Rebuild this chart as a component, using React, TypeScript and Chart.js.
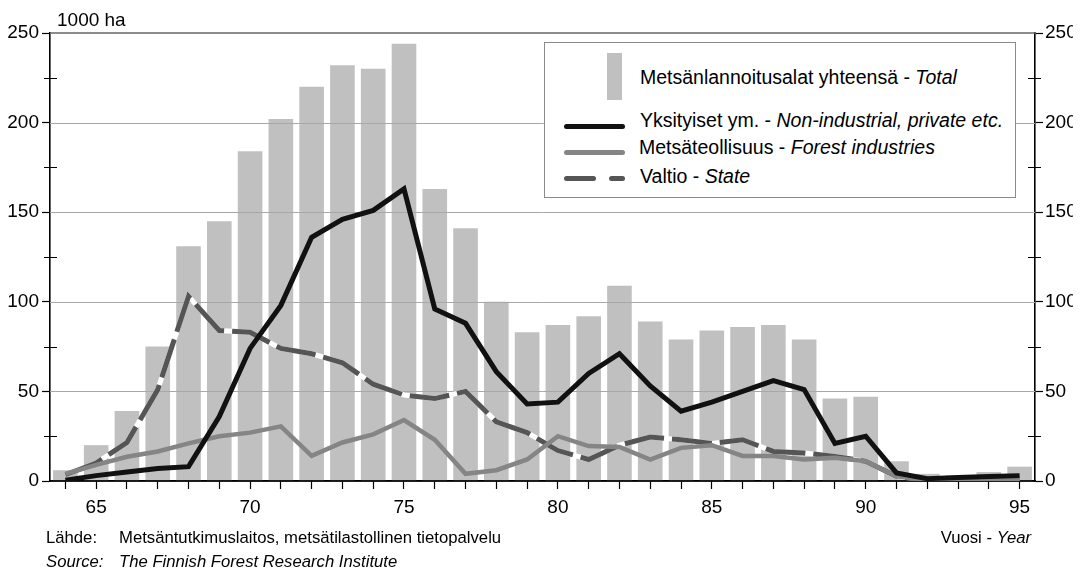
import React, { useEffect, useRef } from "react";
import { Chart, registerables } from "chart.js";

Chart.register(...registerables);

// ---- data (1000 ha) ----
const years = [
  "64", "65", "66", "67", "68", "69", "70", "71", "72", "73", "74", "75", "76", "77", "78", "79",
  "80", "81", "82", "83", "84", "85", "86", "87", "88", "89", "90", "91", "92", "93", "94", "95",
];
const totalArea = [6, 20, 39, 75, 131, 145, 184, 202, 220, 232, 230, 244, 163, 141, 100, 83, 87, 92, 109, 89, 79, 84, 86, 87, 79, 46, 47, 11, 4, 3, 5, 8];
const privateArea = [0.5, 3, 5, 7, 8, 36, 74, 98, 136, 146, 151, 163, 96, 88, 61, 43, 44, 60, 71, 53, 39, 44, 50, 56, 51, 21, 25, 4.5, 1.3, 2, 2.5, 3];
const industryArea = [4, 9, 13.5, 16.5, 21, 25, 27, 30.5, 14, 21.5, 26, 34, 23, 4, 6, 12, 25, 19.5, 19, 12, 18.5, 20, 14, 14, 12, 13, 11, 2.6, 0.5, 0.5, 0.5, 1];
const stateArea = [3.5, 10, 21.5, 51, 103, 84, 83, 74, 71, 66, 54, 48, 46, 50, 33, 27, 17, 12, 20, 24.5, 23, 21, 23, 16.5, 15.6, 13.7, 11, 2.6, 0.5, 0.5, 0.5, 1];
const yTicks = [0, 50, 100, 150, 200, 250];
const minorTicks = [25, 75, 125, 175, 225];
const gridValues = [50, 100, 150, 200];

const labelTotal = "Metsänlannoitusalat yhteensä";
const labelTotalEn = "Total";
const labelPrivate = "Yksityiset ym.";
const labelPrivateEn = "Non-industrial, private etc.";
const labelIndustry = "Metsäteollisuus";
const labelIndustryEn = "Forest industries";
const labelState = "Valtio";
const labelStateEn = "State";

const FONT = '"Liberation Sans", Arial, Helvetica, sans-serif';
const W = 1082;
const H = 572;
const CLIP_W = 1073;
const AREA_LEFT = 50;
const AREA_RIGHT = 1035;
const AREA_TOP = 33;
const AREA_BOTTOM = 481;
const X_AXIS_H = 40;

const C_BAR = "#c0c0c0";
const C_PRIVATE = "#111111";
const C_INDUSTRY = "#858585";
const C_STATE = "#555555";

function Txt(props: { left?: number; right?: number; cy: number; size: number; children: any; italic?: boolean }) {
  const { left, right, cy, size, children, italic } = props;
  const st: any = {
    position: "absolute",
    top: cy - size / 2,
    fontSize: size,
    lineHeight: 1,
    whiteSpace: "nowrap",
    color: "#000",
    fontStyle: italic ? "italic" : "normal",
  };
  if (left !== undefined) st.left = left;
  if (right !== undefined) st.right = right;
  return <div style={st}>{children}</div>;
}

export default function App() {
  const ref = useRef<HTMLCanvasElement>(null);

  useEffect(() => {
    const canvas = ref.current;
    if (!canvas) return;

    const decor = {
      id: "decor",
      afterDatasetDraw(chart: any, args: any) {
        if (args.index !== 0) return;
        const { ctx, chartArea, scales } = chart;
        ctx.save();
        ctx.lineWidth = 1;
        ctx.strokeStyle = "#a8a8a8";
        for (const v of gridValues) {
          const y = Math.round(scales.y.getPixelForValue(v)) + 0.5;
          ctx.beginPath();
          ctx.moveTo(chartArea.left, y);
          ctx.lineTo(chartArea.right, y);
          ctx.stroke();
        }
        ctx.lineWidth = 1.6;
        ctx.strokeStyle = "#666666";
        const yt = scales.y.getPixelForValue(250);
        ctx.beginPath();
        ctx.moveTo(chartArea.left, yt);
        ctx.lineTo(chartArea.right, yt);
        ctx.stroke();
        ctx.lineWidth = 1.6;
        ctx.strokeStyle = "#000";
        const y0 = scales.y.getPixelForValue(0);
        ctx.beginPath();
        ctx.moveTo(chartArea.left, y0);
        ctx.lineTo(chartArea.right, y0);
        ctx.stroke();
        ctx.restore();
      },
      afterDraw(chart: any) {
        const { ctx, chartArea, scales } = chart;
        ctx.save();
        ctx.lineWidth = 1.2;
        ctx.strokeStyle = "#000";
        for (const v of minorTicks) {
          const y = Math.round(scales.y.getPixelForValue(v)) + 0.5;
          ctx.beginPath();
          ctx.moveTo(chartArea.left - 6, y);
          ctx.lineTo(chartArea.left + 7, y);
          ctx.moveTo(chartArea.right - 7, y);
          ctx.lineTo(chartArea.right + 6, y);
          ctx.stroke();
        }
        ctx.restore();
      },
    };

    const tickFont = { family: FONT, size: 19 };

    const chart = new Chart(canvas, {
      type: "bar",
      data: {
        labels: years,
        datasets: [
          {
            type: "bar",
            label: labelTotal,
            data: totalArea,
            backgroundColor: C_BAR,
            borderWidth: 0,
            categoryPercentage: 1,
            barPercentage: 0.8,
            order: 10,
            yAxisID: "y",
          },
          {
            type: "line",
            label: "_stateBase",
            data: stateArea,
            borderColor: "#ffffff",
            borderWidth: 5,
            pointRadius: 0,
            fill: false,
            tension: 0,
            borderJoinStyle: "miter",
            borderCapStyle: "butt",
            order: 4,
            yAxisID: "y",
          },
          {
            type: "line",
            label: labelState,
            data: stateArea,
            borderColor: C_STATE,
            borderWidth: 5,
            borderDash: [40, 8],
            pointRadius: 0,
            fill: false,
            tension: 0,
            borderJoinStyle: "miter",
            borderCapStyle: "butt",
            order: 3,
            yAxisID: "y",
          },
          {
            type: "line",
            label: labelIndustry,
            data: industryArea,
            borderColor: C_INDUSTRY,
            borderWidth: 4.5,
            pointRadius: 0,
            fill: false,
            tension: 0,
            borderJoinStyle: "miter",
            borderCapStyle: "butt",
            order: 2,
            yAxisID: "y",
          },
          {
            type: "line",
            label: labelPrivate,
            data: privateArea,
            borderColor: C_PRIVATE,
            borderWidth: 5,
            pointRadius: 0,
            fill: false,
            tension: 0,
            borderJoinStyle: "miter",
            borderCapStyle: "butt",
            order: 1,
            yAxisID: "y",
          },
        ],
      },
      options: {
        responsive: false,
        animation: false,
        devicePixelRatio: 1,
        layout: {
          padding: { left: 0, right: 0, top: AREA_TOP, bottom: H - AREA_BOTTOM - X_AXIS_H },
        },
        plugins: {
          legend: { display: false },
          tooltip: { enabled: false },
          title: { display: false },
        },
        scales: {
          x: {
            type: "category",
            offset: true,
            grid: {
              offset: false,
              drawOnChartArea: false,
              drawTicks: true,
              tickLength: 8,
              color: "#000",
              tickColor: "#000",
              tickWidth: 1.2,
            },
            border: { display: true, color: "#000", width: 1.6 },
            ticks: {
              autoSkip: false,
              maxRotation: 0,
              minRotation: 0,
              padding: 7,
              color: "#000",
              font: tickFont,
              callback: (_v: any, i: number) => (Number(years[i]) % 5 === 0 ? years[i] : ""),
            },
            afterFit: (s: any) => {
              s.height = X_AXIS_H;
            },
          },
          y: {
            type: "linear",
            position: "left",
            min: 0,
            max: 250,
            afterBuildTicks: (s: any) => {
              s.ticks = yTicks.map((v) => ({ value: v }));
            },
            grid: {
              drawOnChartArea: false,
              drawTicks: true,
              tickLength: 8,
              color: "#000",
              tickColor: "#000",
              tickWidth: 1.2,
            },
            border: { display: true, color: "#000", width: 1.6 },
            ticks: { padding: 3, color: "#000", font: tickFont },
            afterFit: (s: any) => {
              s.width = AREA_LEFT;
            },
          },
          y2: {
            type: "linear",
            position: "right",
            min: 0,
            max: 250,
            afterBuildTicks: (s: any) => {
              s.ticks = yTicks.map((v) => ({ value: v }));
            },
            grid: {
              drawOnChartArea: false,
              drawTicks: true,
              tickLength: 8,
              color: "#000",
              tickColor: "#000",
              tickWidth: 1.2,
            },
            border: { display: true, color: "#000", width: 1.6 },
            ticks: { padding: 2, color: "#000", font: tickFont },
            afterFit: (s: any) => {
              s.width = W - AREA_RIGHT;
            },
          },
        },
      },
      plugins: [decor],
    } as any);

    return () => chart.destroy();
  }, []);

  return (
    <div
      style={{
        position: "absolute",
        left: 0,
        top: 0,
        width: W,
        height: H,
        overflow: "hidden",
        background: "#fff",
        fontFamily: FONT,
      }}
    >
      <div style={{ position: "absolute", left: 0, top: 0, width: CLIP_W, height: H, overflow: "hidden" }}>
        <canvas ref={ref} width={W} height={H} style={{ position: "absolute", left: 0, top: 0, width: W, height: H }} />
      </div>

      <Txt left={57} cy={19} size={19}>1000 ha</Txt>

      {/* legend */}
      <div
        style={{
          position: "absolute",
          left: 544,
          top: 42,
          width: 470,
          height: 154,
          border: "1px solid #8a8a8a",
          background: "#fff",
        }}
      />
      <div style={{ position: "absolute", left: 607, top: 53, width: 15, height: 47, background: C_BAR }} />
      <Txt left={640} cy={78} size={19.5}>
        {labelTotal} - <i>{labelTotalEn}</i>
      </Txt>
      <div style={{ position: "absolute", left: 564, top: 123.5, width: 61, height: 5, borderRadius: 2.5, background: C_PRIVATE }} />
      <Txt left={640} cy={121} size={19.5}>
        {labelPrivate} - <i>{labelPrivateEn}</i>
      </Txt>
      <div style={{ position: "absolute", left: 564, top: 150, width: 61, height: 5, borderRadius: 2.5, background: C_INDUSTRY }} />
      <Txt left={639} cy={148} size={19.5}>
        {labelIndustry} - <i>{labelIndustryEn}</i>
      </Txt>
      <div style={{ position: "absolute", left: 564, top: 175.5, width: 32, height: 5, borderRadius: 2.5, background: C_STATE }} />
      <div style={{ position: "absolute", left: 609, top: 175.5, width: 16, height: 5, borderRadius: 2.5, background: C_STATE }} />
      <Txt left={640} cy={177} size={19.5}>
        {labelState} - <i>{labelStateEn}</i>
      </Txt>

      {/* footer */}
      <Txt left={46} cy={538} size={16.7}>Lähde:</Txt>
      <Txt left={119} cy={538} size={16.7}>Metsäntutkimuslaitos, metsätilastollinen tietopalvelu</Txt>
      <Txt left={46} cy={562} size={16.7} italic>Source:</Txt>
      <Txt left={119} cy={562} size={16.7} italic>The Finnish Forest Research Institute</Txt>
      <Txt right={W - 1031} cy={538} size={16.7}>
        Vuosi - <i>Year</i>
      </Txt>
    </div>
  );
}
